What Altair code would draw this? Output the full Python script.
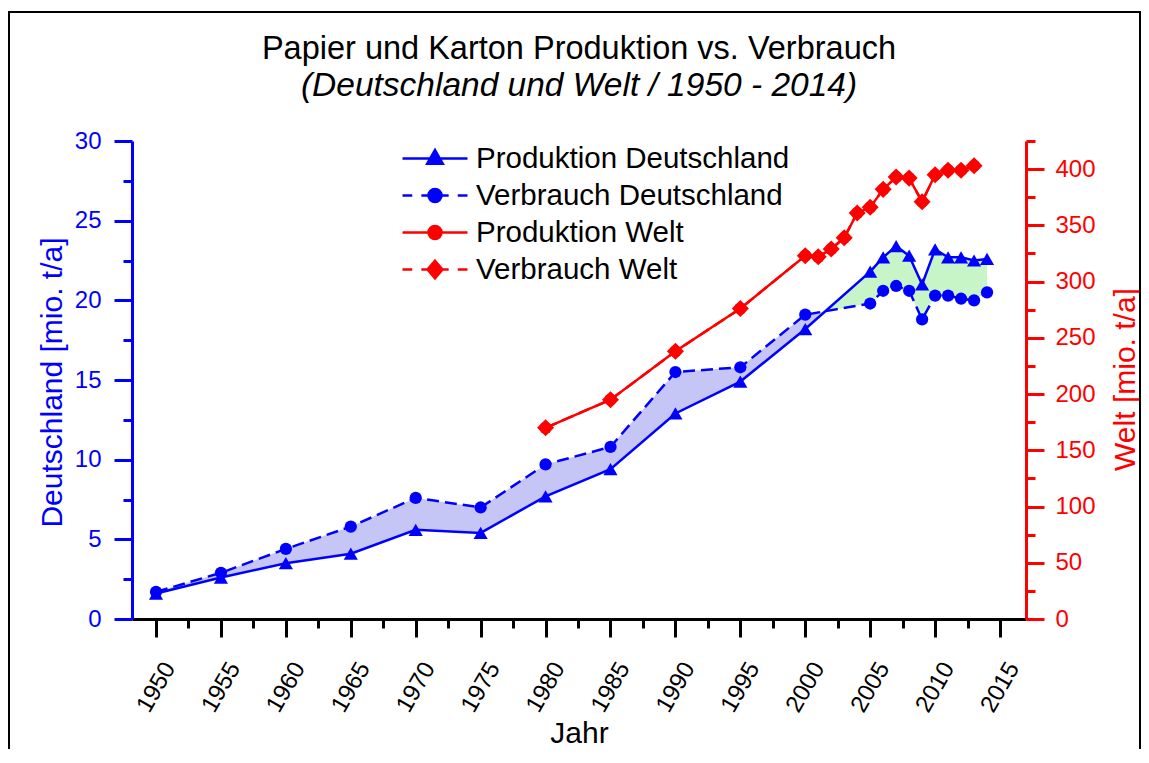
import altair as alt
import pandas as pd

# ---------------- data ----------------
years_de = [1950, 1955, 1960, 1965, 1970, 1975, 1980, 1985, 1990, 1995, 2000,
            2005, 2006, 2007, 2008, 2009, 2010, 2011, 2012, 2013, 2014]
prod_de = [1.6, 2.6, 3.5, 4.1, 5.6, 5.4, 7.7, 9.4, 12.9, 14.9, 18.2,
           21.8, 22.7, 23.4, 22.8, 21.0, 23.2, 22.7, 22.7, 22.5, 22.6]
verb_de = [1.7, 2.9, 4.4, 5.8, 7.6, 7.0, 9.7, 10.8, 15.5, 15.8, 19.1,
           19.8, 20.6, 20.9, 20.6, 18.8, 20.3, 20.3, 20.1, 20.0, 20.5]

years_w = [1980, 1985, 1990, 1995, 2000, 2001, 2002, 2003, 2004, 2005,
           2006, 2007, 2008, 2009, 2010, 2011, 2012, 2013]
prod_w = [170, 195, 238, 276, 323, 322, 329, 339, 361, 366,
          382, 393, 392, 371, 395, 399, 399, 403]
verb_w = [170, 195, 238, 276, 323, 322, 329, 339, 361, 366,
          382, 393, 392, 371, 395, 399, 399, 403]

series_names = ["Produktion Deutschland", "Verbrauch Deutschland",
                "Produktion Welt", "Verbrauch Welt"]

x_tick_values = [1950 + 2.5 * i for i in range(27)]
left_tick_values = [2.5 * i for i in range(13)]
right_tick_values = [25 * i for i in range(18)]

# ---------------- styles ----------------
FONT = "Liberation Sans"
BLUE = "#0000ff"
RED = "#ff0000"
LAV = "#c6c6f6"
GREEN = "#c8f5c8"

de_df = pd.DataFrame({"Jahr": years_de, "prod": prod_de, "verb": verb_de})
w_df = pd.DataFrame({"Jahr": years_w, "prod": prod_w, "verb": verb_w})

# fill between production and consumption (Deutschland), split where they cross
fill_rows = []
reg = 0
cur = None
for i in range(len(years_de)):
    x, p, v = years_de[i], prod_de[i], verb_de[i]
    s = "V" if v >= p else "P"
    if i > 0:
        xp, pp, vp = years_de[i - 1], prod_de[i - 1], verb_de[i - 1]
        dp, d = vp - pp, v - p
        if dp * d < 0:
            t = dp / (dp - d)
            xc = xp + t * (x - xp)
            yc = pp + t * (p - pp)
            fill_rows.append(dict(Jahr=xc, lo=yc, hi=yc, reg=reg, kind=cur))
            reg += 1
            fill_rows.append(dict(Jahr=xc, lo=yc, hi=yc, reg=reg, kind=s))
    cur = s
    fill_rows.append(dict(Jahr=x, lo=p, hi=v, reg=reg, kind=s))
fill_df = pd.DataFrame(fill_rows)


def tick_cond(expr, big, small):
    return {"condition": {"test": expr, "value": big}, "value": small}


x_axis = alt.Axis(
    values=x_tick_values, format="d",
    labelExpr="datum.value % 5 === 0 ? datum.label : ''",
    tickSize=tick_cond("datum.value % 5 === 0", 18, 9),
    tickWidth=3, domainWidth=3, domainColor="black", tickColor="black",
    labelColor="black", labelFont=FONT, labelFontSize=24,
    labelAngle=300, labelAlign="center", labelBaseline="middle",
    labelPadding=50, labelOverlap=False, labelFlush=False, labelBound=False,
    title="Jahr", titleFont=FONT, titleFontSize=30, titleFontWeight="normal",
    titleColor="black", titleY=123, titleBaseline="alphabetic", grid=False,
)

left_axis = alt.Axis(
    orient="left", values=left_tick_values,
    labelExpr="datum.value % 5 === 0 ? datum.label : ''",
    tickSize=tick_cond("datum.value % 5 === 0", 18, 9),
    tickWidth=3, domainWidth=3, domainColor=BLUE, tickColor=BLUE,
    labelColor=BLUE, labelFont=FONT, labelFontSize=24, labelPadding=13,
    title="Deutschland [mio. t/a]", titleColor=BLUE, titleFont=FONT,
    titleFontSize=30, titleFontWeight="normal", titleAngle=270,
    titleAlign="center", titleBaseline="alphabetic", titleX=-71, titleY=241,
    grid=False,
)

right_axis = alt.Axis(
    orient="right", values=right_tick_values,
    labelExpr="datum.value % 50 === 0 ? datum.label : ''",
    tickSize=tick_cond("datum.value % 50 === 0", 18, 9),
    tickWidth=3, domainWidth=3, domainColor=RED, tickColor=RED,
    labelColor=RED, labelFont=FONT, labelFontSize=24, labelPadding=11,
    title="Welt [mio. t/a]", titleColor=RED, titleFont=FONT,
    titleFontSize=30, titleFontWeight="normal", titleAngle=270,
    titleAlign="center", titleBaseline="alphabetic", titleX=108, titleY=238,
    grid=False,
)

xscale = alt.Scale(domain=[1948.15, 2017], nice=False, zero=False)
ly_scale = alt.Scale(domain=[0, 30], nice=False)
ry_scale = alt.Scale(domain=[0, 425], nice=False)

x_enc = alt.X("Jahr:Q", scale=xscale, axis=x_axis)


def yl(field):
    return alt.Y(f"{field}:Q", scale=ly_scale, axis=left_axis)


def yr(field):
    return alt.Y(f"{field}:Q", scale=ry_scale, axis=right_axis)


area = alt.Chart(fill_df).mark_area(opacity=1).encode(
    x=x_enc,
    y=alt.Y("lo:Q", scale=ly_scale, axis=left_axis, stack=None),
    y2="hi:Q",
    color=alt.Color("kind:N", scale=alt.Scale(domain=["V", "P"], range=[LAV, GREEN]), legend=None),
    detail="reg:N",
)

pd_line = alt.Chart(de_df).mark_line(color=BLUE, strokeWidth=2.5).encode(x=x_enc, y=yl("prod"))
vd_line = alt.Chart(de_df).mark_line(color=BLUE, strokeWidth=2.5, strokeDash=[12, 6]).encode(x=x_enc, y=yl("verb"))
pd_pts = alt.Chart(de_df).mark_point(shape="triangle-up", filled=True, size=200, color=BLUE, opacity=1).encode(x=x_enc, y=yl("prod"))
vd_pts = alt.Chart(de_df).mark_point(shape="circle", filled=True, size=150, color=BLUE, opacity=1).encode(x=x_enc, y=yl("verb"))

pw_line = alt.Chart(w_df).mark_line(color=RED, strokeWidth=2.5).encode(x=x_enc, y=yr("prod"))
vw_line = alt.Chart(w_df).mark_line(color=RED, strokeWidth=2.5, strokeDash=[12, 6]).encode(x=x_enc, y=yr("verb"))
pw_pts = alt.Chart(w_df).mark_point(shape="circle", filled=True, size=150, color=RED, opacity=1).encode(x=x_enc, y=yr("prod"))
vw_pts = alt.Chart(w_df).mark_point(shape="diamond", filled=True, size=290, color=RED, opacity=1).encode(x=x_enc, y=yr("verb"))

# legend symbols: line (solid / dashed) with marker, as paths in a [-1, 1] box
TRI = "M0,-0.26L0.24,0.16L-0.24,0.16Z"
CIRC = "M0.2,0A0.2,0.2,0,1,1,-0.2,0A0.2,0.2,0,1,1,0.2,0Z"
DIAM = "M0,-0.27L0.23,0L0,0.27L-0.23,0Z"
SOLID = "M-1,0L1,0"
DASHED = "M-1,0L-0.7,0M-0.42,0L0.42,0M0.7,0L1,0"
legend_paths = [SOLID + TRI, DASHED + CIRC, SOLID + CIRC, DASHED + DIAM]
legend_colors = [BLUE, BLUE, RED, RED]

leg = alt.Legend(
    title=None, orient="none", legendX=269, legendY=2.5, padding=0,
    symbolSize=4225, symbolStrokeWidth=2.5, symbolOpacity=1,
    clipHeight=30, rowPadding=7, labelOffset=7, labelLimit=600,
    labelFont=FONT, labelFontSize=29.5, labelColor="black",
)
legend_df = pd.DataFrame({"Serie": series_names})
legend_layer = alt.Chart(legend_df).mark_point(filled=True, opacity=0, size=4225).encode(
    fill=alt.Fill("Serie:N", sort=series_names, scale=alt.Scale(domain=series_names, range=legend_colors), legend=leg),
    stroke=alt.Stroke("Serie:N", sort=series_names, scale=alt.Scale(domain=series_names, range=legend_colors), legend=leg),
    shape=alt.Shape("Serie:N", sort=series_names, scale=alt.Scale(domain=series_names, range=legend_paths), legend=leg),
)

frame = alt.Chart(pd.DataFrame({"k": [0]})).mark_rect(
    fillOpacity=0, stroke="black", strokeWidth=2
).encode(x=alt.value(-123), x2=alt.value(1008), y=alt.value(-129), y2=alt.value(640))

left = alt.layer(area, pd_line, vd_line, pd_pts, vd_pts)
right = alt.layer(pw_line, vw_line, pw_pts, vw_pts, legend_layer)

chart = alt.layer(left, right, frame).resolve_scale(y="independent").properties(
    width=894, height=478,
    autosize=alt.AutoSizeParams(type="none"),
    padding={"left": 124, "top": 133, "right": 115, "bottom": 130},
    title=alt.TitleParams(
        text="Papier und Karton Produktion vs. Verbrauch",
        subtitle="(Deutschland und Welt / 1950 - 2014)",
        font=FONT, fontSize=32.5, fontWeight="normal", color="black",
        subtitleFont=FONT, subtitleFontSize=33.5, subtitleFontStyle="italic",
        subtitleColor="black", subtitlePadding=4,
        anchor="middle", frame="group", offset=-91,
    ),
).configure_view(stroke=None)

chart.save("out.html", embed_options={"renderer": "svg", "actions": False})
